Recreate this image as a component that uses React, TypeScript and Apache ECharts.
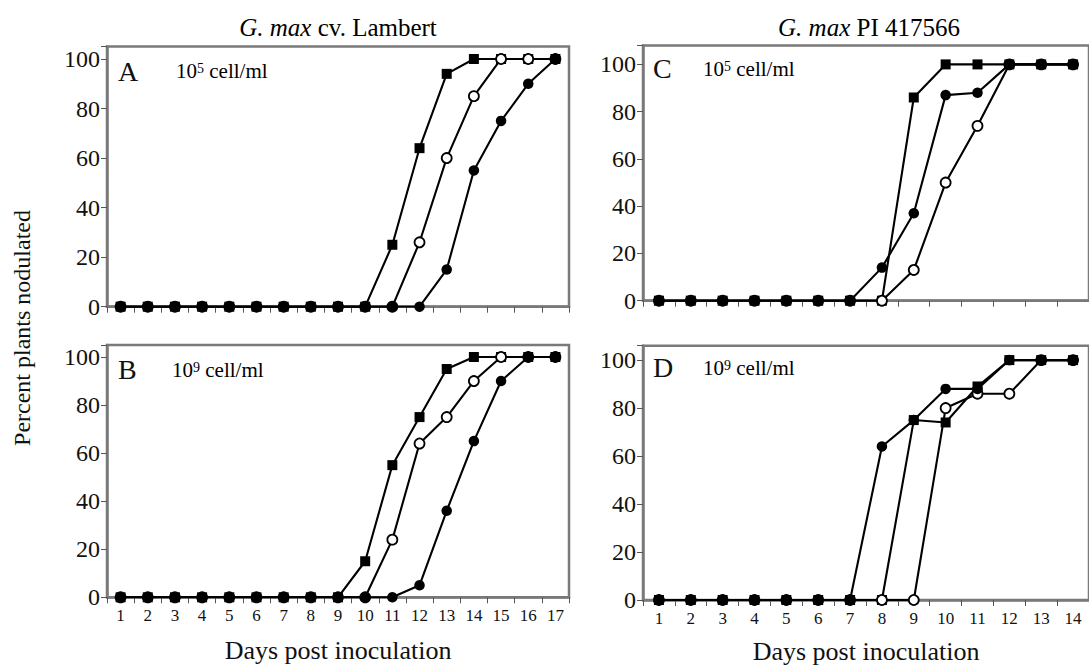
import React, { useEffect, useRef } from "react";
import * as echarts from "echarts";

// ---- data ----
const daysLambert = ["1", "2", "3", "4", "5", "6", "7", "8", "9", "10", "11", "12", "13", "14", "15", "16", "17"];
const daysPI = ["1", "2", "3", "4", "5", "6", "7", "8", "9", "10", "11", "12", "13", "14"];

// Panel A: G. max cv. Lambert, 10^5 cell/ml
const aSquare = [0, 0, 0, 0, 0, 0, 0, 0, 0, 0, 25, 64, 94, 100, 100, 100, 100];
const aOpen = [0, 0, 0, 0, 0, 0, 0, 0, 0, 0, 0, 26, 60, 85, 100, 100, 100];
const aFilled = [0, 0, 0, 0, 0, 0, 0, 0, 0, 0, 0, 0, 15, 55, 75, 90, 100];

// Panel B: G. max cv. Lambert, 10^9 cell/ml
const bSquare = [0, 0, 0, 0, 0, 0, 0, 0, 0, 15, 55, 75, 95, 100, 100, 100, 100];
const bOpen = [0, 0, 0, 0, 0, 0, 0, 0, 0, 0, 24, 64, 75, 90, 100, 100, 100];
const bFilled = [0, 0, 0, 0, 0, 0, 0, 0, 0, 0, 0, 5, 36, 65, 90, 100, 100];

// Panel C: G. max PI 417566, 10^5 cell/ml
const cSquare = [0, 0, 0, 0, 0, 0, 0, 0, 86, 100, 100, 100, 100, 100];
const cOpen = [0, 0, 0, 0, 0, 0, 0, 0, 13, 50, 74, 100, 100, 100];
const cFilled = [0, 0, 0, 0, 0, 0, 0, 14, 37, 87, 88, 100, 100, 100];

// Panel D: G. max PI 417566, 10^9 cell/ml
const dSquare = [0, 0, 0, 0, 0, 0, 0, 0, 75, 74, 89, 100, 100, 100];
const dOpen = [0, 0, 0, 0, 0, 0, 0, 0, 0, 80, 86, 86, 100, 100];
const dFilled = [0, 0, 0, 0, 0, 0, 0, 64, 75, 88, 88, 100, 100, 100];

const yTickValues = [0, 20, 40, 60, 80, 100];
const yName = "Percent plants nodulated";
const xName = "Days post inoculation";

const FONT = "Liberation Serif, Times New Roman, serif";
const BOX = "#7a7a7a";

function makeSeries(idx: number, sq: number[], open: number[], filled: number[]) {
  const line = { color: "#000", width: 2.1 };
  return [
    {
      type: "line", xAxisIndex: idx, yAxisIndex: idx, data: sq,
      symbol: "rect", symbolSize: 10, lineStyle: line,
      itemStyle: { color: "#000", borderWidth: 0 }, z: 3,
    },
    {
      type: "line", xAxisIndex: idx, yAxisIndex: idx, data: open,
      symbol: "circle", symbolSize: 10, lineStyle: line,
      itemStyle: { color: "#fff", borderColor: "#000", borderWidth: 1.8 }, z: 4,
    },
    {
      type: "line", xAxisIndex: idx, yAxisIndex: idx, data: filled,
      symbol: "circle", symbolSize: 10.5, lineStyle: line,
      itemStyle: { color: "#000", borderWidth: 0 }, z: 5,
    },
  ];
}

function xAxis(idx: number, cats: string[], showLabels: boolean, gap: number) {
  return {
    type: "category", gridIndex: idx, data: cats, boundaryGap: true,
    axisLine: { show: true, lineStyle: { color: BOX, width: 2.5 } },
    axisTick: { show: true, length: 6, lineStyle: { color: "#555", width: 1 } },
    axisLabel: {
      show: showLabels, fontFamily: FONT, fontSize: 17, color: "#111", margin: 10,
    },
    splitLine: { show: false },
    name: showLabels ? xName : "",
    nameLocation: "middle",
    nameGap: gap,
    nameTextStyle: { fontFamily: FONT, fontSize: 26, color: "#111" },
  };
}

function yAxis(idx: number, max: number) {
  return {
    type: "value", gridIndex: idx, min: 0, max, interval: 20,
    axisLine: { show: true, lineStyle: { color: BOX, width: 2.5 } },
    axisTick: { show: true, length: 6, lineStyle: { color: "#555", width: 1 } },
    axisLabel: {
      fontFamily: FONT, fontSize: 24, color: "#111", margin: 7,
      formatter: (v: number) => (yTickValues.indexOf(v) >= 0 ? String(v) : ""),
    },
    splitLine: { show: false },
  };
}

function conc(x: number, y: number, exp: string) {
  return {
    type: "text", x, y,
    style: {
      text: "{b|10}{s|" + exp + "}{b| cell/ml}",
      verticalAlign: "middle", align: "left",
      rich: {
        b: { fontFamily: FONT, fontSize: 21, lineHeight: 20, color: "#111", verticalAlign: "bottom" },
        s: { fontFamily: FONT, fontSize: 14, color: "#111", verticalAlign: "top" },
      },
    },
  };
}

function letter(x: number, y: number, t: string) {
  return {
    type: "text", x, y,
    style: { text: t, font: "28px " + FONT, fill: "#111", verticalAlign: "middle", align: "left" },
  };
}

function title(x: number, italic: string, rest: string) {
  return {
    type: "text", x, y: 27,
    style: {
      text: "{i|" + italic + "}{n|" + rest + "}", align: "center", verticalAlign: "middle",
      rich: {
        i: { fontFamily: FONT, fontSize: 25, fontStyle: "italic", color: "#111" },
        n: { fontFamily: FONT, fontSize: 25, color: "#111" },
      },
    },
  };
}

export default function App() {
  const ref = useRef<HTMLDivElement>(null);
  useEffect(() => {
    document.body.style.margin = "0";
    if (!ref.current) return;
    const chart = echarts.init(ref.current, undefined, { renderer: "svg" });
    const grids = [
      { left: 107, top: 46.6, width: 462, height: 260.1 },
      { left: 107, top: 345, width: 462, height: 252.3 },
      { left: 643, top: 45.5, width: 455, height: 255.2 },
      { left: 643, top: 345.7, width: 455, height: 254.3 },
    ].map((g) => ({ ...g, show: true, borderColor: BOX, borderWidth: 2.5, backgroundColor: "transparent", containLabel: false }));

    chart.setOption({
      animation: false,
      backgroundColor: "#fff",
      grid: grids,
      xAxis: [
        xAxis(0, daysLambert, false, 40),
        xAxis(1, daysLambert, true, 40),
        xAxis(2, daysPI, false, 38),
        xAxis(3, daysPI, true, 38),
      ],
      yAxis: [yAxis(0, 105), yAxis(1, 105), yAxis(2, 108), yAxis(3, 106)],
      series: [
        ...makeSeries(0, aSquare, aOpen, aFilled),
        ...makeSeries(1, bSquare, bOpen, bFilled),
        ...makeSeries(2, cSquare, cOpen, cFilled),
        ...makeSeries(3, dSquare, dOpen, dFilled),
      ],
      graphic: [
        title(338, "G. max", " cv. Lambert"),
        title(869, "G. max", " PI 417566"),
        {
          type: "text", x: 22, y: 328, rotation: Math.PI / 2,
          style: { text: yName, font: "24px " + FONT, fill: "#111", align: "center", verticalAlign: "middle" },
        },
        letter(118, 71, "A"),
        letter(118, 369, "B"),
        letter(653, 68, "C"),
        letter(653, 367, "D"),
        conc(176, 71, "5"),
        conc(172, 370, "9"),
        conc(703, 69, "5"),
        conc(703, 368, "9"),
      ],
    });
    return () => chart.dispose();
  }, []);
  return <div ref={ref} style={{ width: 1089, height: 669 }} />;
}
